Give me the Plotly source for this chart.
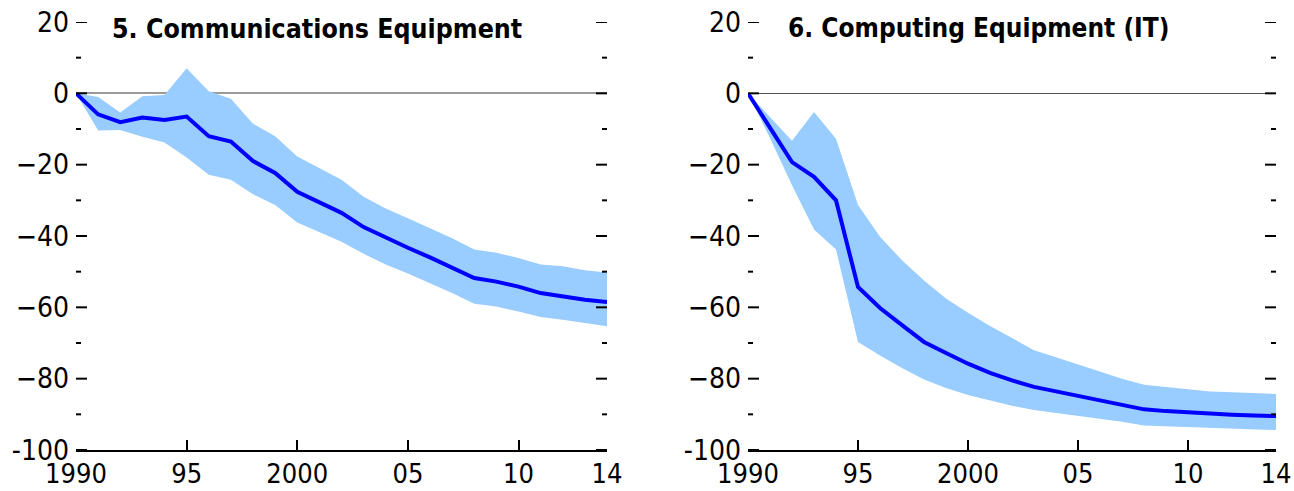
import plotly.graph_objects as go

years = list(range(1990, 2015))

comm_mid = [0, -5.9, -8.1, -6.8, -7.5, -6.5, -12.0, -13.5, -19.0, -22.3, -27.6, -30.7, -33.5,
            -37.5, -40.5, -43.3, -46.0, -49.0, -51.8, -52.8, -54.2, -56.0, -57.0, -57.9, -58.5]
comm_hi = [0, -1.0, -5.4, -0.8, -0.5, 7.0, 0.6, -1.5, -8.5, -12.0, -17.7, -21.0, -24.2,
           -29.0, -32.3, -35.0, -37.7, -40.6, -43.8, -44.7, -46.2, -48.0, -48.5, -49.6, -50.2]
comm_lo = [0, -10.4, -10.3, -12.2, -13.8, -18.0, -22.8, -24.2, -28.3, -31.3, -36.2, -39.0, -41.6,
           -45.0, -48.0, -50.5, -53.2, -56.0, -59.0, -59.8, -61.2, -62.7, -63.5, -64.4, -65.3]

comp_mid = [0, -9.5, -19.3, -23.4, -30.0, -54.3, -60.2, -65.0, -69.7, -72.8, -75.8, -78.4, -80.5,
            -82.3, -83.6, -84.9, -86.0, -87.3, -88.6, -89.1, -89.5, -89.9, -90.1, -90.3, -90.5]
comp_hi = [0, -6.5, -13.3, -5.2, -12.7, -31.3, -40.2, -46.8, -52.5, -57.5, -61.5, -65.2, -68.6,
           -72.0, -74.0, -76.0, -78.1, -80.0, -81.7, -82.4, -83.0, -83.6, -83.8, -84.1, -84.3]
comp_lo = [0, -12.5, -25.8, -38.2, -43.8, -69.7, -73.5, -77.0, -80.2, -82.6, -84.6, -86.2, -87.6,
           -88.8, -89.6, -90.4, -91.2, -92.1, -93.1, -93.3, -93.5, -93.7, -93.9, -94.1, -94.4]

titles = ["5. Communications Equipment", "6. Computing Equipment (IT)"]
x_tickvals = [1990, 1995, 2000, 2005, 2010, 2014]
x_ticktext = ["1990", "95", "2000", "05", "10", "14"]
y_tickvals = [20, 0, -20, -40, -60, -80, -100]
y_ticktext = ["20", "0", "\u221220", "\u221240", "\u221260", "\u221280", "-100"]
y_minorvals = [10, -10, -30, -50, -70, -90]

FONT = "DejaVu Sans Condensed, Liberation Sans Narrow, Liberation Sans, sans-serif"
BAND = "#99CCFF"
LINE = "#0000FF"

W, H = 1294, 491
fig = go.Figure()

panels = [
    (comm_lo, comm_hi, comm_mid, "x", "y"),
    (comp_lo, comp_hi, comp_mid, "x2", "y2"),
]
for lo, hi, mid, xa, ya in panels:
    fig.add_trace(go.Scatter(x=years, y=lo, mode="lines", line=dict(width=0, color=BAND),
                             xaxis=xa, yaxis=ya, showlegend=False, hoverinfo="skip"))
    fig.add_trace(go.Scatter(x=years, y=hi, mode="lines", line=dict(width=0, color=BAND),
                             fill="tonexty", fillcolor=BAND,
                             xaxis=xa, yaxis=ya, showlegend=False, hoverinfo="skip"))
    fig.add_trace(go.Scatter(x=years, y=mid, mode="lines", line=dict(width=4, color=LINE),
                             xaxis=xa, yaxis=ya, showlegend=False))

top_px, bot_px = 22, 450
dom_y = [1 - bot_px / H, 1 - top_px / H]
xdoms = [[76 / W, 607 / W], [748 / W, 1276 / W]]
zero_cols = [("#9a9a9a", 1.6), ("#555555", 1)]

common_x = dict(range=[1990, 2014], tickvals=x_tickvals, ticktext=x_ticktext,
                ticks="inside", ticklen=10, tickwidth=2, tickcolor="black",
                showline=True, linecolor="black", linewidth=2, showgrid=False,
                zeroline=False, tickfont=dict(family=FONT, size=27, color="black"),
                ticklabelstandoff=-1, fixedrange=True, automargin=False)
common_y = dict(range=[-100, 20], tickvals=y_tickvals, ticktext=y_ticktext,
                ticks="", showline=False, showgrid=False,
                tickfont=dict(family=FONT, size=28, color="black"),
                ticklabelstandoff=6, fixedrange=True, automargin=False)

layout = dict(width=W, height=H, margin=dict(l=0, r=0, t=0, b=0), template="none",
              paper_bgcolor="white", plot_bgcolor="white", showlegend=False)
for i in range(2):
    sfx = "" if i == 0 else "2"
    xa = dict(common_x, domain=xdoms[i], anchor="y" + sfx)
    ya = dict(common_y, domain=dom_y, anchor="x" + sfx,
              zeroline=True, zerolinecolor=zero_cols[i][0], zerolinewidth=zero_cols[i][1])
    layout["xaxis" + sfx] = xa
    layout["yaxis" + sfx] = ya
fig.update_layout(**layout)

# y-axis tick marks on both sides of each panel (inside), major and minor
for i in range(2):
    xr = "x domain" if i == 0 else "x2 domain"
    yr = "y" if i == 0 else "y2"
    width_px = (xdoms[i][1] - xdoms[i][0]) * W
    for vals, ln in ((y_tickvals, 11), (y_minorvals, 5)):
        f = ln / width_px
        for v in vals:
            for x0, x1 in ((0, f), (1 - f, 1)):
                fig.add_shape(type="line", xref=xr, yref=yr, x0=x0, x1=x1, y0=v, y1=v,
                              line=dict(color="black", width=2), layer="above")

title_x = [110, 786]
title_size = [26.5, 26]
for i, t in enumerate(titles):
    fig.add_annotation(text="<b>" + t + "</b>", xref="paper", yref="paper",
                       x=title_x[i] / W, y=1 - 28 / H, xanchor="left", yanchor="middle",
                       showarrow=False, font=dict(family=FONT, size=title_size[i], color="black"))

fig.write_html("out.html")
